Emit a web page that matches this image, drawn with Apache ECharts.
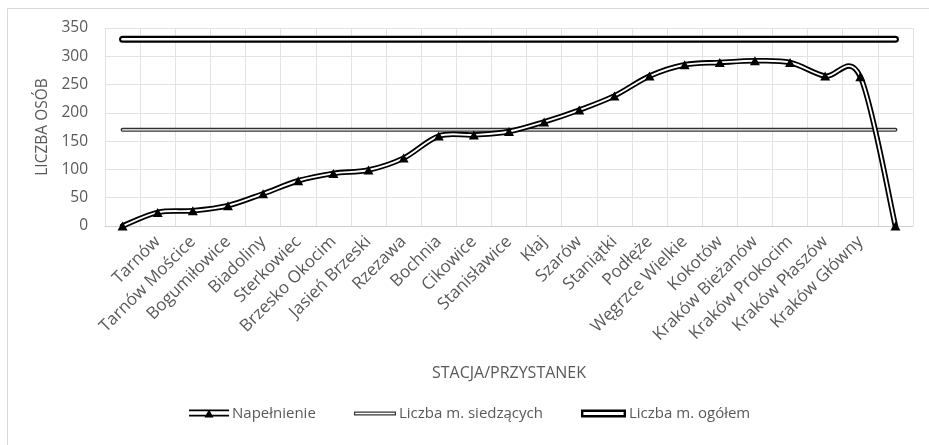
<!DOCTYPE html>
<html>
<head>
<meta charset="utf-8">
<script src="https://cdn.jsdelivr.net/npm/echarts@6/dist/echarts.min.js"></script>
<style>
  html, body { margin: 0; padding: 0; background: #fff; }
  #chart { width: 929px; height: 445px; }
</style>
</head>
<body>
<div id="chart"></div>
<script>
// Stations along the Tarnów – Kraków Główny line (first and last slots are the terminal points, unlabeled)
const stations = ['', 'Tarnów', 'Tarnów Mościce', 'Bogumiłowice', 'Biadoliny', 'Sterkowiec',
  'Brzesko Okocim', 'Jasień Brzeski', 'Rzezawa', 'Bochnia', 'Cikowice', 'Stanisławice', 'Kłaj',
  'Szarów', 'Staniątki', 'Podłęże', 'Węgrzce Wielkie', 'Kokotów', 'Kraków Bieżanów',
  'Kraków Prokocim', 'Kraków Płaszów', 'Kraków Główny', ''];

// Passengers on board after each stop
const occupancy = [0, 24, 27, 36, 57, 80, 93, 99, 120, 159, 161, 167, 184, 205, 230,
  265, 285, 289, 292, 289, 265, 264, 0];

// Train capacity
const seatedCapacity = 170;
const totalCapacity = 330;

// Value axis ticks
const yTicks = [0, 50, 100, 150, 200, 250, 300, 350];

const FONT = '"Open Sans", "Liberation Sans", sans-serif';
const TEXT = '#595959';
const GRID = '#e3e3e3';

const lastIdx = stations.length - 1;
const seatedLine = [[0, seatedCapacity], [lastIdx, seatedCapacity]];
const totalLine = [[0, totalCapacity], [lastIdx, totalCapacity]];

// Legend glyphs: double line with a triangle, thin double line, thick double line
const iconOccupancy = 'path://M0 0H40V1.8H0Z M0 5.2H40V7H0Z M15.5 8L20 0L24.5 8Z';
const iconSeated = 'path://M0 0H42V4H0Z M1.2 1.3V2.7H40.8V1.3Z';
const iconTotal = 'path://M0 0H45V8H0Z M2.4 2.4V5.6H42.6V2.4Z';

const legendBase = {
  orient: 'horizontal',
  top: 406,
  padding: 0,
  selectedMode: false,
  textStyle: { fontFamily: FONT, fontSize: 15, color: TEXT, padding: [0, 0, 0, -2] },
  itemGap: 0
};

// Cardinal (Catmull-Rom) spline through the projected points
function splinePath(pts) {
  let d = 'M' + pts[0][0] + ' ' + pts[0][1];
  for (let i = 0; i < pts.length - 1; i++) {
    const p0 = pts[Math.max(i - 1, 0)];
    const p1 = pts[i];
    const p2 = pts[i + 1];
    const p3 = pts[Math.min(i + 2, pts.length - 1)];
    const c1x = p1[0] + (p2[0] - p0[0]) / 6;
    const c1y = p1[1] + (p2[1] - p0[1]) / 6;
    const c2x = p2[0] - (p3[0] - p1[0]) / 6;
    const c2y = p2[1] - (p3[1] - p1[1]) / 6;
    d += 'C' + c1x + ' ' + c1y + ' ' + c2x + ' ' + c2y + ' ' + p2[0] + ' ' + p2[1];
  }
  return d;
}

function renderOccupancy(params, api) {
  if (params.dataIndex !== 0) return null;
  const pts = occupancy.map((v, i) => api.coord([i, v]));
  const d = splinePath(pts);
  return {
    type: 'group',
    children: [
      { type: 'path', shape: { pathData: d },
        style: { fill: 'none', stroke: '#000', lineWidth: 5.5, lineJoin: 'round', lineCap: 'round' } },
      { type: 'path', shape: { pathData: d },
        style: { fill: 'none', stroke: '#fff', lineWidth: 1.9, lineJoin: 'round', lineCap: 'round' } }
    ]
  };
}

const chart = echarts.init(document.getElementById('chart'), null, { renderer: 'canvas' });

chart.setOption({
  animation: false,
  backgroundColor: '#fff',
  graphic: [{
    type: 'rect',
    left: 5, top: 6,
    shape: { x: 0, y: 0, width: 1000, height: 1000 },
    style: { fill: 'none', stroke: '#d9d9d9', lineWidth: 1 },
    silent: true,
    z: -10
  }],
  grid: { left: 105, right: 16, top: 28, bottom: 219, containLabel: false },
  legend: [
    Object.assign({}, legendBase, {
      left: 189, itemWidth: 40, itemHeight: 8,
      data: [{ name: 'Napełnienie', icon: iconOccupancy, itemStyle: { color: '#000' } }]
    }),
    Object.assign({}, legendBase, {
      left: 354, itemWidth: 42, itemHeight: 4,
      data: [{ name: 'Liczba m. siedzących', icon: iconSeated, itemStyle: { color: '#333' } }]
    }),
    Object.assign({}, legendBase, {
      left: 581, itemWidth: 45, itemHeight: 8,
      data: [{ name: 'Liczba m. ogółem', icon: iconTotal, itemStyle: { color: '#000' } }]
    })
  ],
  xAxis: {
    type: 'category',
    data: stations,
    boundaryGap: true,
    name: 'STACJA/PRZYSTANEK',
    nameLocation: 'middle',
    nameGap: 139,
    nameTextStyle: { fontFamily: FONT, fontSize: 16, color: TEXT },
    axisLine: { show: true, lineStyle: { color: '#d0d0d0', width: 1 } },
    axisTick: { show: false },
    splitLine: { show: true, lineStyle: { color: GRID, width: 1 } },
    axisLabel: {
      interval: 0,
      rotate: 45,
      margin: 13,
      fontFamily: FONT,
      fontSize: 17,
      color: TEXT
    }
  },
  yAxis: {
    type: 'value',
    min: yTicks[0],
    max: yTicks[yTicks.length - 1],
    interval: yTicks[1] - yTicks[0],
    name: 'LICZBA OSÓB',
    nameLocation: 'middle',
    nameGap: 54,
    nameRotate: 90,
    nameTextStyle: { fontFamily: FONT, fontSize: 15.5, color: TEXT },
    axisLine: { show: false },
    axisTick: { show: false },
    splitLine: { show: true, lineStyle: { color: GRID, width: 1 } },
    axisLabel: { margin: 17, fontFamily: FONT, fontSize: 15.5, color: TEXT }
  },
  series: [
    // seated capacity: dark outline + white core
    {
      name: 'Liczba m. siedzących', type: 'line', data: seatedLine,
      symbol: 'none', z: 2, silent: true,
      itemStyle: { color: '#333' },
      lineStyle: { color: '#333', width: 4, cap: 'round' }
    },
    {
      name: 'Liczba m. siedzących', type: 'line', data: seatedLine,
      symbol: 'none', z: 3, silent: true,
      itemStyle: { color: '#333' },
      lineStyle: { color: '#ffffff', width: 1.3, cap: 'round' }
    },
    // total capacity: heavy outline + white core
    {
      name: 'Liczba m. ogółem', type: 'line', data: totalLine,
      symbol: 'none', z: 2, silent: true,
      itemStyle: { color: '#000' },
      lineStyle: { color: '#000', width: 7, cap: 'round' }
    },
    {
      name: 'Liczba m. ogółem', type: 'line', data: totalLine,
      symbol: 'none', z: 3, silent: true,
      itemStyle: { color: '#000' },
      lineStyle: { color: '#ffffff', width: 2.6, cap: 'round' }
    },
    // occupancy: smoothed double line
    {
      name: 'Napełnienie', type: 'custom', data: occupancy,
      renderItem: renderOccupancy, z: 4, silent: true,
      itemStyle: { color: '#000' }
    },
    // occupancy markers on top
    {
      name: 'Napełnienie', type: 'line', data: occupancy,
      z: 6, silent: true,
      symbol: 'triangle', symbolSize: [10, 9], showSymbol: true, showAllSymbol: true,
      itemStyle: { color: '#000' },
      lineStyle: { width: 0, opacity: 0 }
    }
  ]
});
</script>
</body>
</html>
